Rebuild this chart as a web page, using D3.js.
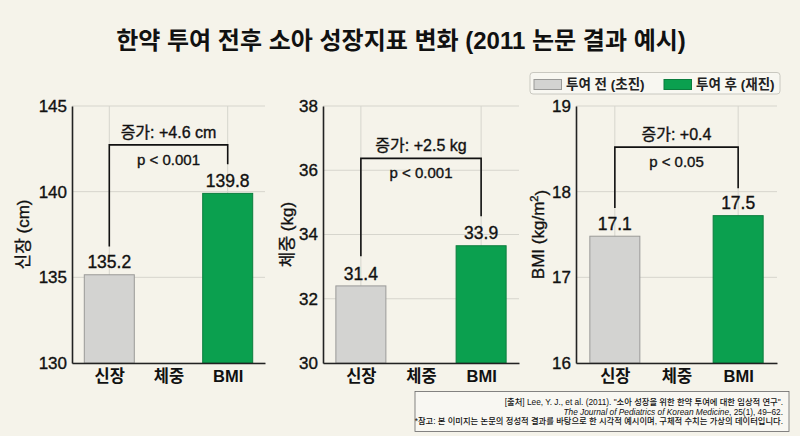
<!DOCTYPE html>
<html><head><meta charset="utf-8">
<script src="https://cdn.jsdelivr.net/npm/d3@7"></script>
<style>html,body{margin:0;padding:0;background:#f5f3ea;} svg{display:block;}</style>
</head><body><svg id="c" width="800" height="436"></svg>
<script>
// ---- data ----
const titleText = "한약 투여 전후 소아 성장지표 변화 (2011 논문 결과 예시)";
const categories = ["신장", "체중", "BMI"];
const seriesNames = ["투여 전 (초진)", "투여 후 (재진)"];
const panelTitles = ["신장 (cm)", "체중 (kg)", "BMI (kg/m"];
const panelDomains = [[130, 145], [30, 38], [16, 19]];
const panelTicks = [[130, 135, 140, 145], [30, 32, 34, 36, 38], [16, 17, 18, 19]];
const beforeValues = [135.15, 32.4, 17.48];
const afterValues = [139.9, 33.65, 17.72];
const beforeLabels = ["135.2", "31.4", "17.1"];
const afterLabels = ["139.8", "33.9", "17.5"];
const changeLabels = ["증가: +4.6 cm", "증가: +2.5 kg", "증가: +0.4"];
const pLabels = ["p < 0.001", "p < 0.001", "p < 0.05"];
const bracketLeft = [136.8, 33.32, 17.81];
const bracketTop = [142.73, 36.37, 18.52];
const bracketRight = [141.6, 34.57, 18.04];
const sourceLine1 = "[출처] Lee, Y. J., et al. (2011). \"소아 성장을 위한 한약 투여에 대한 임상적 연구\".";
const journalName = "The Journal of Pediatrics of Korean Medicine";
const journalRest = ", 25(1), 49–62.";
const noteLine = "*참고: 본 이미지는 논문의 정성적 결과를 바탕으로 한 시각적 예시이며, 구체적 수치는 가상의 데이터입니다.";

// ---- layout ----
const FONT = "'Liberation Sans', Arial, 'Noto Sans CJK KR', sans-serif";
const colors = ["#d3d3d1", "#0ba04f"];
const strokes = ["#9a9a98", "#0b7d3e"];
const panelLeft = [72, 323, 576];
const panelRight = [265, 519, 777];
const titleOffset = [49, 36, 38];
const plotTop = 106, plotBottom = 363;

const svg = d3.select("#c").style("font-family", FONT);
svg.append("rect").attr("width", 800).attr("height", 436).attr("fill", "#f5f3ea");

svg.append("text").attr("x", 401).attr("y", 49).attr("text-anchor", "middle")
  .attr("font-size", 24).attr("font-weight", "bold").attr("fill", "#111")
  .text(titleText);

// medium-weight look for regular texts
const med = sel => sel.attr("stroke", "#111").attr("stroke-width", 0.35).attr("paint-order", "stroke");

// legend
const lg = svg.append("g");
lg.append("rect").attr("x", 530).attr("y", 72.5).attr("width", 250).attr("height", 21.5)
  .attr("rx", 3).attr("fill", "#f8f7f1").attr("stroke", "#c9c8c0");
const legX = [534, 664];
seriesNames.forEach((n, i) => {
  lg.append("rect").attr("x", legX[i]).attr("y", 79.5).attr("width", 27.5).attr("height", 10)
    .attr("fill", colors[i]).attr("stroke", strokes[i]);
  lg.append("text").attr("x", legX[i] + 32).attr("y", 84.5).attr("dy", "0.35em")
    .attr("font-size", 13.5).attr("font-weight", "bold").attr("fill", "#222").text(n);
});

panelDomains.forEach((dom, i) => {
  const g = svg.append("g");
  const y = d3.scaleLinear().domain(dom).range([plotBottom, plotTop]);
  const x = d3.scalePoint().domain(categories).range([panelLeft[i], panelRight[i]]).padding(0.63);
  const bw = 50;
  // grid
  g.append("g").selectAll("line").data(panelTicks[i]).join("line")
    .attr("x1", panelLeft[i]).attr("x2", panelRight[i])
    .attr("y1", d => y(d)).attr("y2", d => y(d))
    .attr("stroke", "#d6d5cd").attr("stroke-width", 1);
  g.append("g").selectAll("line").data([categories[0], categories[2]]).join("line")
    .attr("x1", d => x(d)).attr("x2", d => x(d)).attr("y1", plotTop).attr("y2", plotBottom)
    .attr("stroke", "#d6d5cd").attr("stroke-width", 1);
  // bars
  const bars = [
    { c: categories[0], v: beforeValues[i], lab: beforeLabels[i], s: 0 },
    { c: categories[2], v: afterValues[i], lab: afterLabels[i], s: 1 }
  ];
  g.append("g").selectAll("rect").data(bars).join("rect")
    .attr("x", d => x(d.c) - bw / 2).attr("width", bw)
    .attr("y", d => y(d.v)).attr("height", d => plotBottom - y(d.v))
    .attr("fill", d => colors[d.s]).attr("stroke", d => strokes[d.s]).attr("stroke-width", 1);
  g.append("g").selectAll("text").data(bars).join("text")
    .attr("x", d => x(d.c)).attr("y", d => y(d.v) - 12.5).attr("dy", "0.35em")
    .attr("text-anchor", "middle").attr("font-size", 17.5).attr("fill", "#111")
    .text(d => d.lab).call(med);
  // bracket
  const xl = x(categories[0]), xr = x(categories[2]);
  g.append("path")
    .attr("d", `M${xl},${y(bracketLeft[i])}V${y(bracketTop[i])}H${xr}V${y(bracketRight[i])}`)
    .attr("fill", "none").attr("stroke", "#111").attr("stroke-width", 1.6);
  const xm = (xl + xr) / 2;
  g.append("text").attr("x", xm).attr("y", y(bracketTop[i]) - 12.5).attr("dy", "0.35em")
    .attr("text-anchor", "middle").attr("font-size", 16).attr("fill", "#111").text(changeLabels[i]).call(med);
  g.append("text").attr("x", xm).attr("y", y(bracketTop[i]) + 14.5).attr("dy", "0.35em")
    .attr("text-anchor", "middle").attr("font-size", 15).attr("fill", "#111").text(pLabels[i]).call(med);
  // axes
  const ya = g.append("g").attr("transform", `translate(${panelLeft[i]},0)`)
    .call(d3.axisLeft(y).tickValues(panelTicks[i]).tickFormat(d3.format("d")).tickSize(0).tickPadding(5));
  ya.select(".domain").attr("stroke", "#222").attr("stroke-width", 1.6);
  ya.selectAll("text").attr("font-size", 17).attr("fill", "#111").style("font-family", FONT).call(med);
  const xa = g.append("g").attr("transform", `translate(0,${plotBottom})`)
    .call(d3.axisBottom(x).tickSize(0).tickPadding(7));
  xa.select(".domain").attr("stroke", "#222").attr("stroke-width", 1.6);
  xa.selectAll("text").attr("font-size", 16.5).attr("font-weight", "bold").attr("fill", "#111")
    .style("font-family", FONT);
  // y title
  const tx = panelLeft[i] - titleOffset[i], ty = (plotTop + plotBottom) / 2;
  const t = g.append("text").attr("transform", `translate(${tx},${ty}) rotate(-90)`)
    .attr("text-anchor", "middle").attr("dy", "0.35em").attr("font-size", 17).attr("fill", "#111").call(med);
  t.append("tspan").text(panelTitles[i]);
  if (i === 2) {
    t.append("tspan").attr("font-size", 11).attr("dy", "-0.55em").text("2");
    t.append("tspan").attr("dy", "0.55em").text(")");
  }
});

// source box
svg.append("rect").attr("x", 415).attr("y", 391.5).attr("width", 374).attr("height", 40)
  .attr("fill", "#f8f7f2").attr("stroke", "#666").attr("stroke-width", 0.8);
const fs = 8.3;
svg.append("text").attr("x", 783).attr("y", 405).attr("text-anchor", "end")
  .attr("font-size", fs).attr("font-weight", 500).attr("fill", "#111").text(sourceLine1);
const l2 = svg.append("text").attr("x", 783).attr("y", 414.5).attr("text-anchor", "end")
  .attr("font-size", fs).attr("font-weight", 500).attr("fill", "#111");
l2.append("tspan").attr("font-style", "italic").text(journalName);
l2.append("tspan").text(journalRest);
svg.append("text").attr("x", 783).attr("y", 424).attr("text-anchor", "end")
  .attr("font-size", fs).attr("font-weight", 500).attr("fill", "#111").text(noteLine);
</script></body></html>
